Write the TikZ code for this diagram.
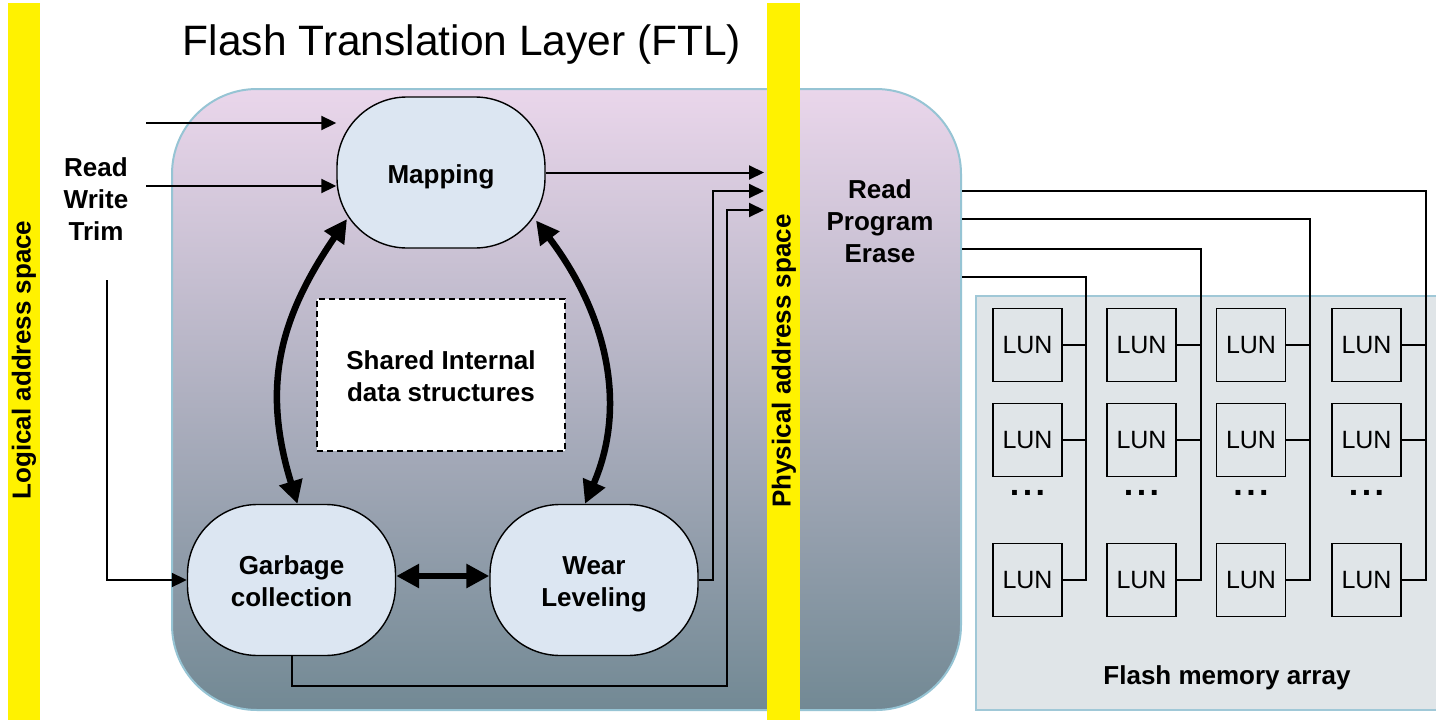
\documentclass[tikz,border=0pt]{standalone}
\usepackage{fontspec}
\setmainfont{Liberation Sans}
\usetikzlibrary{arrows.meta}
\definecolor{ftltop}{RGB}{234,214,235}
\definecolor{ftlbot}{RGB}{114,137,148}
\definecolor{ftlborder}{RGB}{150,196,212}
\definecolor{nodefill}{RGB}{220,230,242}
\definecolor{arrayfill}{RGB}{224,229,232}
\definecolor{arrayborder}{RGB}{160,200,215}
\begin{document}
\begin{tikzpicture}[x=1pt,y=-1pt,
  lbl/.style={font=\bfseries\fontsize{26}{32}\selectfont, align=center},
  fnode/.style={draw=black, line width=1.4pt, fill=nodefill, rounded corners=70pt, minimum width=208pt, minimum height=151pt, inner sep=0pt},
  lun/.style={draw=black, line width=1.4pt, minimum width=69pt, minimum height=73pt, inner sep=0pt, font=\fontsize{25}{30}\selectfont},
  wire/.style={line width=2pt, draw=black},
  thinarrow/.style={wire, -{Triangle[length=15pt,width=14pt]}},
  bigarrow/.style={line width=6.5pt, draw=black, {Triangle[length=23pt,width=23pt]}-{Triangle[length=23pt,width=23pt]}},
  dots/.style={font=\bfseries\fontsize{34}{34}\selectfont, inner sep=0pt}
]
\useasboundingbox (0,0) rectangle (1436,720);
\fill[white] (0,0) rectangle (1436,720);

% FTL box
\draw[line width=2pt, draw=ftlborder, top color=ftltop, bottom color=ftlbot, rounded corners=85pt] (172,89) rectangle (961,710);
% flash memory array
\draw[line width=2pt, draw=arrayborder, fill=arrayfill] (976,296) rectangle (1450,710);

% address space bars
\fill[yellow] (8,3) rectangle (40,720);
\fill[yellow] (767,3) rectangle (800,720);
\node[lbl, rotate=90] (lspace) at (24,360) {Logical address space};
\node[lbl, rotate=90] (pspace) at (784,361) {Physical address space};

% title
\node[font=\fontsize{42.5}{50}\selectfont, anchor=base, inner sep=0pt] (title) at (462,55) {Flash Translation Layer (FTL)};

% FTL nodes
\node[fnode] (map) at (441,172.5) {};
\node[fnode] (gc) at (291.5,580) {};
\node[fnode] (wear) at (594,580) {};
\node[draw=black, dash pattern=on 6pt off 4pt, line width=1.4pt, fill=white, minimum width=248pt, minimum height=152pt, inner sep=0pt] (shared) at (441,375) {};
\node[lbl] (mapt) at (441,176.5) {Mapping};
\node[lbl] (gct) at (291.5,581.5) {Garbage\\collection};
\node[lbl] (weart) at (594,584) {Wear\\Leveling};
\node[lbl] (sharedt) at (441,376.5) {Shared Internal\\data structures};

% side labels
\node[lbl] (rwt) at (96,199) {Read\\Write\\Trim};
\node[lbl] (rpe) at (880,221) {Read\\Program\\Erase};

% inputs
\coordinate (in1) at (146,123);
\coordinate (in2) at (146,186);
\coordinate (in3) at (107,280);
\draw[thinarrow] (in1) -- (in1 -| map.west);
\draw[thinarrow] (in2) -- (in2 -| map.west);
\draw[thinarrow] (in3) |- (gc.west);

% outputs to physical address space
\coordinate (p1) at (764,173);
\coordinate (p2) at (764,191);
\coordinate (p3) at (764,210);
\coordinate (wl) at (713,580);
\coordinate (gl) at (727,686);
\draw[thinarrow] (map.east) -- (map.east -| p1);
\draw[thinarrow] (wear.east) -- (wl) |- (p2);
\draw[thinarrow] (gc.south) |- (gl) |- (p3);

% thick double arrows
\draw[bigarrow] ([shift={(-94,46.5)}]map.center) .. controls (278,320) and (262,388) .. ([xshift=6pt]gc.north);
\draw[bigarrow] ([shift={(95,48)}]map.center) .. controls (604,310) and (629,402) .. ([xshift=-9pt]wear.north);
\draw[bigarrow] ([yshift=4pt]gc.east) -- ([yshift=4pt]wear.west);

% LUN grid
\foreach \c/\x in {1/1027.5,2/1141.5,3/1251,4/1366.5}{
  \node[lun] (L\c1) at (\x,345) {LUN};
  \node[lun] (L\c2) at (\x,440) {LUN};
  \node[lun] (L\c4) at (\x,580) {LUN};
  \node[dots] (D\c) at (\x,493) {.\kern3.5pt.\kern3.5pt.};
  \draw[wire] (L\c1.east) -- ++(24,0);
  \draw[wire] (L\c2.east) -- ++(24,0);
}
\coordinate (b1) at (962,191);
\coordinate (b2) at (962,219);
\coordinate (b3) at (962,249);
\coordinate (b4) at (962,277);
\draw[wire] (b1) -| ([xshift=24pt]L44.east) -- (L44.east);
\draw[wire] (b2) -| ([xshift=24pt]L34.east) -- (L34.east);
\draw[wire] (b3) -| ([xshift=24pt]L24.east) -- (L24.east);
\draw[wire] (b4) -| ([xshift=23pt]L14.east) -- (L14.east);

\node[lbl] (fma) at (1227,678) {Flash memory array};
\end{tikzpicture}
\end{document}
